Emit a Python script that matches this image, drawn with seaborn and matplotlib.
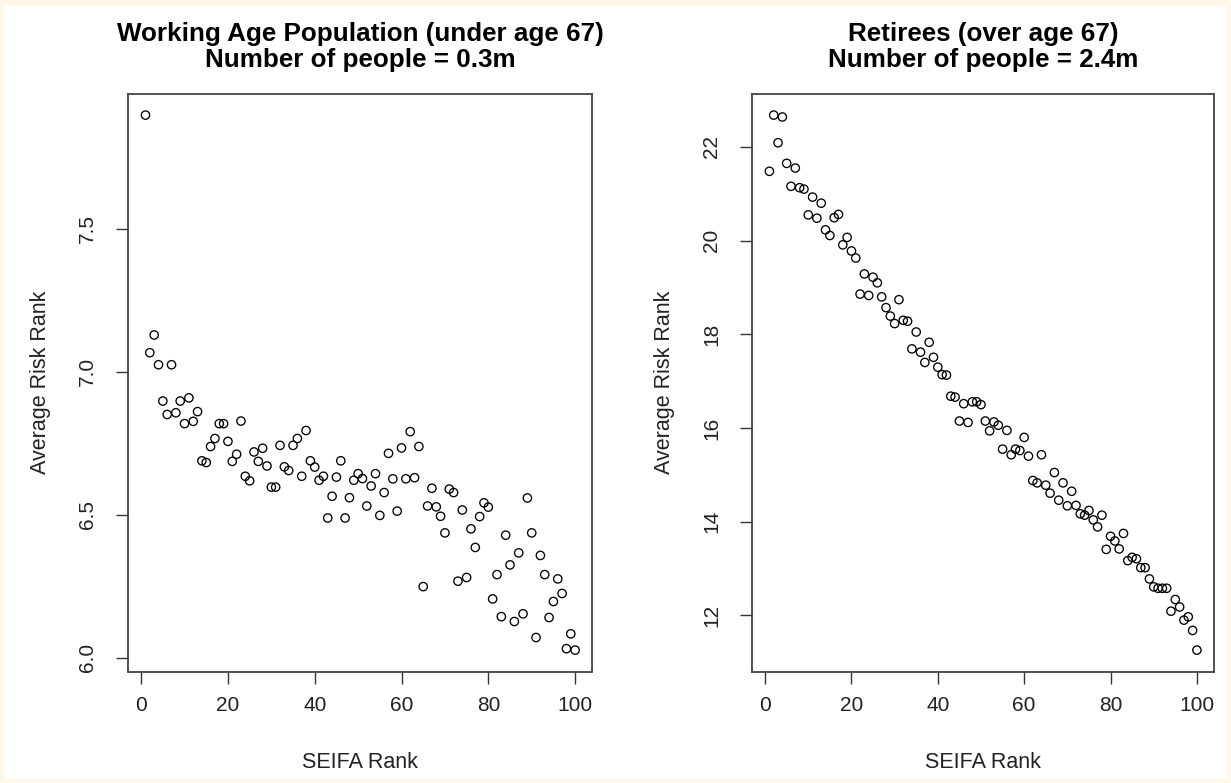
import numpy as np
import pandas as pd
import matplotlib
matplotlib.use("Agg")
import matplotlib.pyplot as plt
from matplotlib.patches import Rectangle
import seaborn as sns

# SEIFA rank (1 = most disadvantaged)
seifa_rank = list(range(1, 101))

# Average risk rank, working age population (under 67)
working_risk = [
    7.897, 7.066, 7.128, 7.024, 6.897, 6.850, 7.024, 6.856, 6.897, 6.818,
    6.908, 6.826, 6.860, 6.688, 6.682, 6.738, 6.766, 6.818, 6.818, 6.756,
    6.686, 6.711, 6.827, 6.634, 6.618, 6.719, 6.686, 6.732, 6.670, 6.596,
    6.596, 6.742, 6.667, 6.654, 6.742, 6.766, 6.634, 6.794, 6.688, 6.666,
    6.620, 6.634, 6.488, 6.564, 6.631, 6.688, 6.488, 6.559, 6.620, 6.643,
    6.626, 6.530, 6.600, 6.643, 6.497, 6.577, 6.714, 6.625, 6.512, 6.733,
    6.625, 6.790, 6.629, 6.738, 6.248, 6.530, 6.592, 6.527, 6.494, 6.436,
    6.589, 6.577, 6.267, 6.516, 6.280, 6.450, 6.385, 6.493, 6.541, 6.526,
    6.205, 6.290, 6.143, 6.428, 6.324, 6.126, 6.366, 6.153, 6.558, 6.436,
    6.070, 6.357, 6.290, 6.140, 6.196, 6.275, 6.224, 6.031, 6.083, 6.026,
]

# Average risk rank, retirees (over 67)
retiree_risk = [
    21.48, 22.68, 22.09, 22.64, 21.65, 21.16, 21.55, 21.13, 21.10, 20.55,
    20.93, 20.48, 20.80, 20.23, 20.11, 20.49, 20.56, 19.91, 20.07, 19.78,
    19.63, 18.86, 19.29, 18.83, 19.22, 19.10, 18.80, 18.57, 18.39, 18.23,
    18.74, 18.30, 18.28, 17.69, 18.05, 17.62, 17.40, 17.83, 17.51, 17.30,
    17.14, 17.13, 16.68, 16.66, 16.15, 16.52, 16.12, 16.56, 16.56, 16.50,
    16.15, 15.94, 16.13, 16.06, 15.55, 15.95, 15.43, 15.55, 15.52, 15.80,
    15.40, 14.88, 14.83, 15.43, 14.78, 14.61, 15.05, 14.46, 14.83, 14.34,
    14.65, 14.35, 14.17, 14.14, 14.24, 14.04, 13.89, 14.14, 13.41, 13.69,
    13.59, 13.42, 13.75, 13.17, 13.24, 13.21, 13.02, 13.02, 12.78, 12.61,
    12.58, 12.58, 12.58, 12.09, 12.34, 12.18, 11.90, 11.97, 11.68, 11.26,
]

panel_titles = [
    "Working Age Population (under age 67)\nNumber of people = 0.3m",
    "Retirees (over age 67)\nNumber of people = 2.4m",
]
x_ticks = [0, 20, 40, 60, 80, 100]
y_ticks_working = [6.0, 6.5, 7.0, 7.5]
y_ticks_retiree = [12, 14, 16, 18, 20, 22]

sns.set_theme(style="white")
plt.rcParams["font.family"] = ["Liberation Sans", "DejaVu Sans"]

W, H = 1231, 783
fig = plt.figure(figsize=(W / 100, H / 100), dpi=100, facecolor="#FFF8E8")
# white page inside a thin cream frame, kept behind the axes
page = Rectangle((4 / W, 4 / H), (W - 8) / W, (H - 10) / H,
                 transform=fig.transFigure, facecolor="white",
                 edgecolor="none", zorder=-10)
fig.add_artist(page)

ax_bottom = 1 - 671.5 / H
ax_height = (671.5 - 93.7) / H
axes_px = [(128.3, 592.3), (752.3, 1214.0)]

frames = [
    pd.DataFrame({"SEIFA Rank": seifa_rank, "Average Risk Rank": working_risk}),
    pd.DataFrame({"SEIFA Rank": seifa_rank, "Average Risk Rank": retiree_risk}),
]
y_tick_sets = [(y_ticks_working, "{:.1f}"), (y_ticks_retiree, "{:d}")]

text_col = "#222222"
for i, (df, (x0, x1)) in enumerate(zip(frames, axes_px)):
    ax = fig.add_axes([x0 / W, ax_bottom, (x1 - x0) / W, ax_height])
    ax.set_facecolor("white")
    sns.scatterplot(data=df, x="SEIFA Rank", y="Average Risk Rank", ax=ax,
                    marker="o", s=36, facecolor="none", edgecolor="black",
                    linewidth=0.95, zorder=3)

    # R-style 4% padding around the data range
    xs = df["SEIFA Rank"]
    ys = df["Average Risk Rank"]
    xr, yr = xs.max() - xs.min(), ys.max() - ys.min()
    ax.set_xlim(xs.min() - 0.04 * xr, xs.max() + 0.04 * xr)
    ax.set_ylim(ys.min() - 0.04 * yr, ys.max() + 0.04 * yr)

    ticks, fmt = y_tick_sets[i]
    ax.set_xticks(x_ticks)
    ax.set_xticklabels([str(t) for t in x_ticks])
    ax.set_yticks(ticks)
    ax.set_yticklabels([fmt.format(t) for t in ticks], rotation=90, va="center")

    ax.tick_params(axis="both", which="major", direction="out", length=8.4,
                   width=1.0, color="#333333", labelsize=15, labelcolor=text_col,
                   bottom=True, left=True)
    ax.tick_params(axis="x", pad=9)
    ax.tick_params(axis="y", pad=14)

    for sp in ax.spines.values():
        sp.set_visible(True)
        sp.set_color("#444444")
        sp.set_linewidth(1.3)

    ax.set_xlabel("SEIFA Rank", fontsize=15.5, color=text_col)
    ax.set_ylabel("Average Risk Rank", fontsize=15.5, color=text_col)
    ax.xaxis.label.set_va("center")
    ax.yaxis.label.set_va("center")
    ax_w_px = x1 - x0
    ax_h_px = 671.5 - 93.7
    ax.xaxis.set_label_coords(0.5, -90.5 / ax_h_px)
    ax.yaxis.set_label_coords(-88.0 / ax_w_px, 0.5)

    fig.text((x0 + x1) / 2 / W, 1 - 47.0 / H, panel_titles[i], ha="center",
             va="center", fontsize=18.7, fontweight="bold", color="black",
             linespacing=1.08)

fig.savefig("out.png", dpi=100, facecolor=fig.get_facecolor())
